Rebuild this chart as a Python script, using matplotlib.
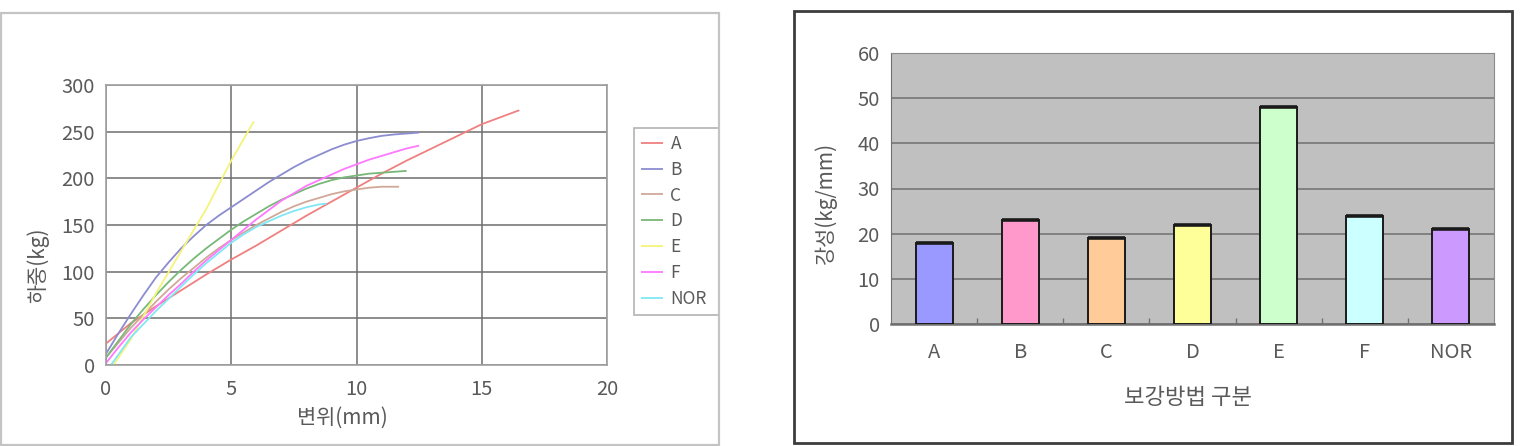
import matplotlib
matplotlib.use('Agg')
import matplotlib.pyplot as plt
from matplotlib.patches import Rectangle

plt.rcParams['font.family'] = ['Noto Sans CJK KR', 'DejaVu Sans']

W, H = 1535, 446

# ---------------- data: load-displacement curves ----------------
series_names = ['A', 'B', 'C', 'D', 'E', 'F', 'NOR']

disp_A = [0, 1, 2, 3, 4, 5, 6, 7, 8, 9, 10, 11, 12, 13, 14, 15, 16.5]
load_A = [23, 45, 63, 80, 97, 113, 128, 144, 160, 175, 190, 205, 219, 232, 245, 258, 273]

disp_B = [0, 0.5, 1, 1.5, 2, 2.5, 3, 3.5, 4, 4.5, 5, 5.5, 6, 6.5, 7, 7.5, 8, 8.5, 9,
          9.5, 10, 10.5, 11, 11.5, 12, 12.5]
load_B = [12, 34, 55, 75, 94, 110, 125, 138, 150, 160, 169, 178, 187, 196, 204, 212, 219,
          225, 231, 236, 240, 243, 245.5, 247, 248, 249]

disp_C = [0, 0.5, 1, 1.5, 2, 2.5, 3, 3.5, 4, 4.5, 5, 5.5, 6, 6.5, 7, 7.5, 8, 8.5, 9,
          9.5, 10, 10.5, 11, 11.7]
load_C = [8, 24, 40, 54, 68, 81, 93, 104, 115, 125, 134, 142, 150, 157, 164, 170, 175,
          179, 183, 186, 188, 190, 191, 191]

disp_D = [0, 0.5, 1, 1.5, 2, 2.5, 3, 3.5, 4, 4.5, 5, 5.5, 6, 6.5, 7, 7.5, 8, 8.5, 9,
          9.5, 10, 10.5, 11, 11.5, 12]
load_D = [8, 26, 44, 60, 75, 89, 102, 114, 125, 135, 145, 154, 162, 170, 177, 183, 189,
          194, 198, 201, 203, 205, 206, 207, 208]

disp_E = [0.3, 1, 2, 3, 4, 5, 5.9]
load_E = [0, 28, 77, 122, 167, 219, 261]

disp_F = [0, 0.5, 1, 1.5, 2, 2.5, 3, 3.5, 4, 4.5, 5, 5.5, 6, 6.5, 7, 7.5, 8, 8.5, 9,
          9.5, 10, 10.5, 11, 11.5, 12, 12.5]
load_F = [2, 19, 35, 49, 62, 75, 87, 100, 112, 123, 134, 145, 156, 166, 176, 184, 192,
          198, 204, 210, 215, 220, 224, 228, 232, 235]

disp_NOR = [0.2, 0.6, 1, 1.5, 2, 2.5, 3, 3.5, 4, 4.5, 5, 5.5, 6, 6.5, 7, 7.5, 8, 8.5, 8.8]
load_NOR = [0, 15, 30, 44, 58, 71, 84, 97, 109, 120, 131, 140, 148, 154, 160, 165, 169,
            172, 173]

x_ticks_left = [0, 5, 10, 15, 20]
y_ticks_left = [0, 50, 100, 150, 200, 250, 300]

# ---------------- data: stiffness bars ----------------
bar_categories = ['A', 'B', 'C', 'D', 'E', 'F', 'NOR']
stiffness = [18, 23, 19, 22, 48, 24, 21]
y_ticks_right = [0, 10, 20, 30, 40, 50, 60]

line_colors = ['#f08080', '#8c8cd0', '#d0a898', '#78b878', '#f4f47a', '#ff78ff', '#80e8f4']
bar_colors = ['#9999ff', '#ff99cc', '#ffcc99', '#ffff99', '#ccffcc', '#ccffff', '#cc99ff']

TXT = '#5a5a5a'


def rect(x0, y0, x1, y1):
    return [x0 / W, 1 - y1 / H, (x1 - x0) / W, (y1 - y0) / H]


fig = plt.figure(figsize=(W / 100, H / 100), dpi=100)

# panel borders
fig.add_artist(Rectangle((1 / W, 1 - 445 / H), 718 / W, 432 / H, transform=fig.transFigure,
                         fill=False, edgecolor='#c4c4c4', lw=1.6))
fig.add_artist(Rectangle((794 / W, 1 - 443 / H), (1512 - 794) / W, (443 - 11) / H,
                         transform=fig.transFigure, fill=False, edgecolor='#3c3c3c', lw=2.0))

# ---------------- left: line chart ----------------
ax1 = fig.add_axes(rect(106, 85, 607, 365))
curves = [(disp_A, load_A), (disp_B, load_B), (disp_C, load_C), (disp_D, load_D),
          (disp_E, load_E), (disp_F, load_F), (disp_NOR, load_NOR)]
for (xs, ys), name, c in zip(curves, series_names, line_colors):
    ax1.plot(xs, ys, color=c, lw=1.3, label=name, solid_capstyle='butt')
ax1.set_xlim(0, 20)
ax1.set_ylim(0, 300)
ax1.set_xticks(x_ticks_left)
ax1.set_yticks(y_ticks_left)
ax1.grid(True, color='#6e6e6e', lw=1.1)
ax1.set_axisbelow(True)
for s in ax1.spines.values():
    s.set_color('#a0a0a0')
    s.set_linewidth(1.2)
ax1.tick_params(length=0, labelsize=14.5, labelcolor=TXT)
ax1.tick_params(axis='x', pad=10)
ax1.tick_params(axis='y', pad=8)
fig.text(342 / W, 1 - 418 / H, '변위(mm)', ha='center', va='center', fontsize=15, color=TXT)
fig.text(38 / W, 1 - 265 / H, '하중(kg)', ha='center', va='center', fontsize=15, color=TXT,
         rotation=90)

leg = ax1.legend(loc='upper left', bbox_to_anchor=(634 / W, 1 - 310 / H, 85 / W, 182 / H),
                 bbox_transform=fig.transFigure, mode='expand', frameon=True, fancybox=False,
                 fontsize=12.5, handlelength=1.25, handletextpad=0.45, labelspacing=0.45,
                 borderpad=0.4, borderaxespad=0)
leg.get_frame().set_edgecolor('#a0a0a0')
leg.get_frame().set_linewidth(1.2)
for t in leg.get_texts():
    t.set_color(TXT)

# ---------------- right: bar chart ----------------
ax2 = fig.add_axes(rect(891, 53, 1494, 324))
ax2.set_facecolor('#c0c0c0')
xpos = list(range(len(bar_categories)))
bar_w = 0.43
ax2.bar(xpos, stiffness, width=bar_w, color=bar_colors, edgecolor='#1a1a1a', lw=1.4, zorder=3)
ax2.hlines(stiffness, [p - bar_w / 2 for p in xpos], [p + bar_w / 2 for p in xpos],
           colors='#1a1a1a', lw=2.6, zorder=4)
ax2.set_xlim(-0.5, len(bar_categories) - 0.5)
ax2.set_ylim(0, 60)
ax2.set_yticks(y_ticks_right)
ax2.set_xticks(xpos)
ax2.set_xticklabels(bar_categories)
ax2.set_xticks([i + 0.5 for i in range(len(bar_categories) - 1)], minor=True)
ax2.yaxis.grid(True, color='#707070', lw=1.1)
ax2.set_axisbelow(True)
ax2.spines['left'].set_color('#707070')
ax2.spines['bottom'].set_color('#707070')
ax2.spines['bottom'].set_linewidth(1.8)
ax2.spines['top'].set_color('#8a8a8a')
ax2.spines['right'].set_color('#8a8a8a')
ax2.tick_params(which='major', length=0, labelsize=14.5, labelcolor=TXT)
ax2.tick_params(which='minor', direction='in', length=4, color='#707070', width=1)
ax2.tick_params(axis='x', pad=13)
ax2.tick_params(axis='y', pad=8)
fig.text(1188 / W, 1 - 398 / H, '보강방법 구분', ha='center', va='center', fontsize=16, color=TXT)
fig.text(826 / W, 1 - 203 / H, '강성(kg/mm)', ha='center', va='center', fontsize=15, color=TXT,
         rotation=90)

fig.savefig('out.png', dpi=100)
